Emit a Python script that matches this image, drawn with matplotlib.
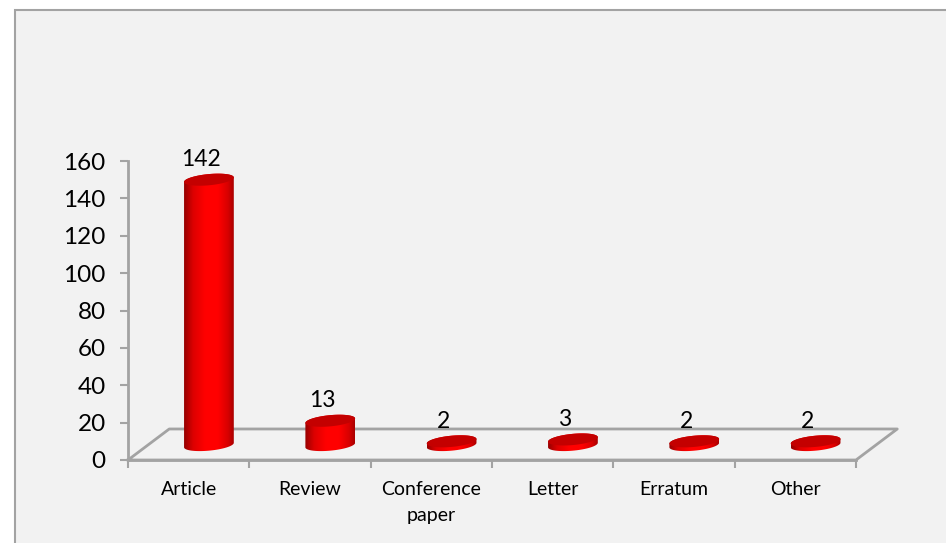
import matplotlib
matplotlib.use("Agg")
import matplotlib.pyplot as plt
from matplotlib.patches import Rectangle, PathPatch
from matplotlib.path import Path
from matplotlib.colors import LinearSegmentedColormap
import numpy as np

plt.rcParams['font.family'] = ['Lato', 'DejaVu Sans']

categories = ["Article", "Review", "Conference\npaper", "Letter", "Erratum", "Other"]
values = [142, 13, 2, 3, 2, 2]
y_ticks = [0, 20, 40, 60, 80, 100, 120, 140, 160]

GRAY = "#a3a3a3"
W, H = 946, 543

fig = plt.figure(figsize=(W / 100, H / 100), dpi=100, facecolor="white")

# grey panel, runs off the right and bottom of the image
fig.add_artist(Rectangle((15 / W, -0.02), 1, 1 - 10 / H + 0.02, transform=fig.transFigure,
                         facecolor="#f2f2f2", edgecolor=GRAY, lw=1.5, zorder=-1))

ax = fig.add_axes([128 / W, (H - 460) / H, 728 / W, 299 / H])
ax.patch.set_alpha(0)

# the fake 3d floor, offsets in data units
dx_floor = 0.34
dy_floor = 16.6
ax.plot([0, dx_floor, 6 + dx_floor, 6, 0],
        [0, dy_floor, dy_floor, 0, 0], color=GRAY, lw=2, clip_on=False, zorder=1)

shade = LinearSegmentedColormap.from_list(
    "cyl", [(0, "#960000"), (0.18, "#dc0000"), (0.42, "#ff0000"), (0.68, "#ff0000"),
            (0.88, "#d80000"), (1, "#a80000")])
grad = np.linspace(0, 1, 256).reshape(1, -1)


def ellipse_xy(cx, cy, t):
    # ellipse with a slight tilt: the right side sits higher than the left
    return cx + 0.205 * np.cos(t), cy + 3.0 * np.sin(t) + 1.2 * np.cos(t)


def draw_cylinder(cx, val):
    bottom = 8
    top = bottom + val
    t_low = np.linspace(0, -np.pi, 60)
    t_up = np.linspace(np.pi, 0, 60)
    xb, yb = ellipse_xy(cx, bottom, t_low)
    xt, yt = ellipse_xy(cx, top, t_up)
    xs = np.r_[xb, xt]
    ys = np.r_[yb, yt]
    body = PathPatch(Path(np.c_[xs, ys]), facecolor="none", edgecolor="none",
                     transform=ax.transData)
    ax.add_patch(body)
    im = ax.imshow(grad, extent=[cx - 0.205, cx + 0.205, 0, top + 6], cmap=shade,
                   aspect="auto", zorder=3, vmin=0, vmax=1)
    im.set_clip_path(body)
    # top face
    t = np.linspace(0, 2 * np.pi, 120)
    xc, yc = ellipse_xy(cx, top, t)
    ax.fill(xc, yc, color="#c40000", lw=0, zorder=4)


for i, val in enumerate(values):
    draw_cylinder(i + 0.5 + 0.167, val)
    ax.text(i + 0.6, val + 8 + 10.8, str(val), ha="center", va="center",
            fontsize=16.5, color="black", zorder=6)

ax.set_xlim(0, 6)
ax.set_ylim(0, 160)

for side in ["top", "right"]:
    ax.spines[side].set_visible(False)
for side in ["left", "bottom"]:
    ax.spines[side].set_color(GRAY)
    ax.spines[side].set_linewidth(2)

ax.set_yticks(y_ticks)
ax.tick_params(axis="y", length=6, width=1.5, color=GRAY, labelsize=17.5, pad=10)

ax.set_xticks(np.arange(6) + 0.5)
ax.set_xticklabels(categories, linespacing=1.65)
ax.set_xticks(np.arange(7), minor=True)
ax.tick_params(axis="x", which="major", length=0, labelsize=14, pad=15)
ax.tick_params(axis="x", which="minor", length=6, width=1.5, color=GRAY)

fig.savefig("out.png", dpi=100)
